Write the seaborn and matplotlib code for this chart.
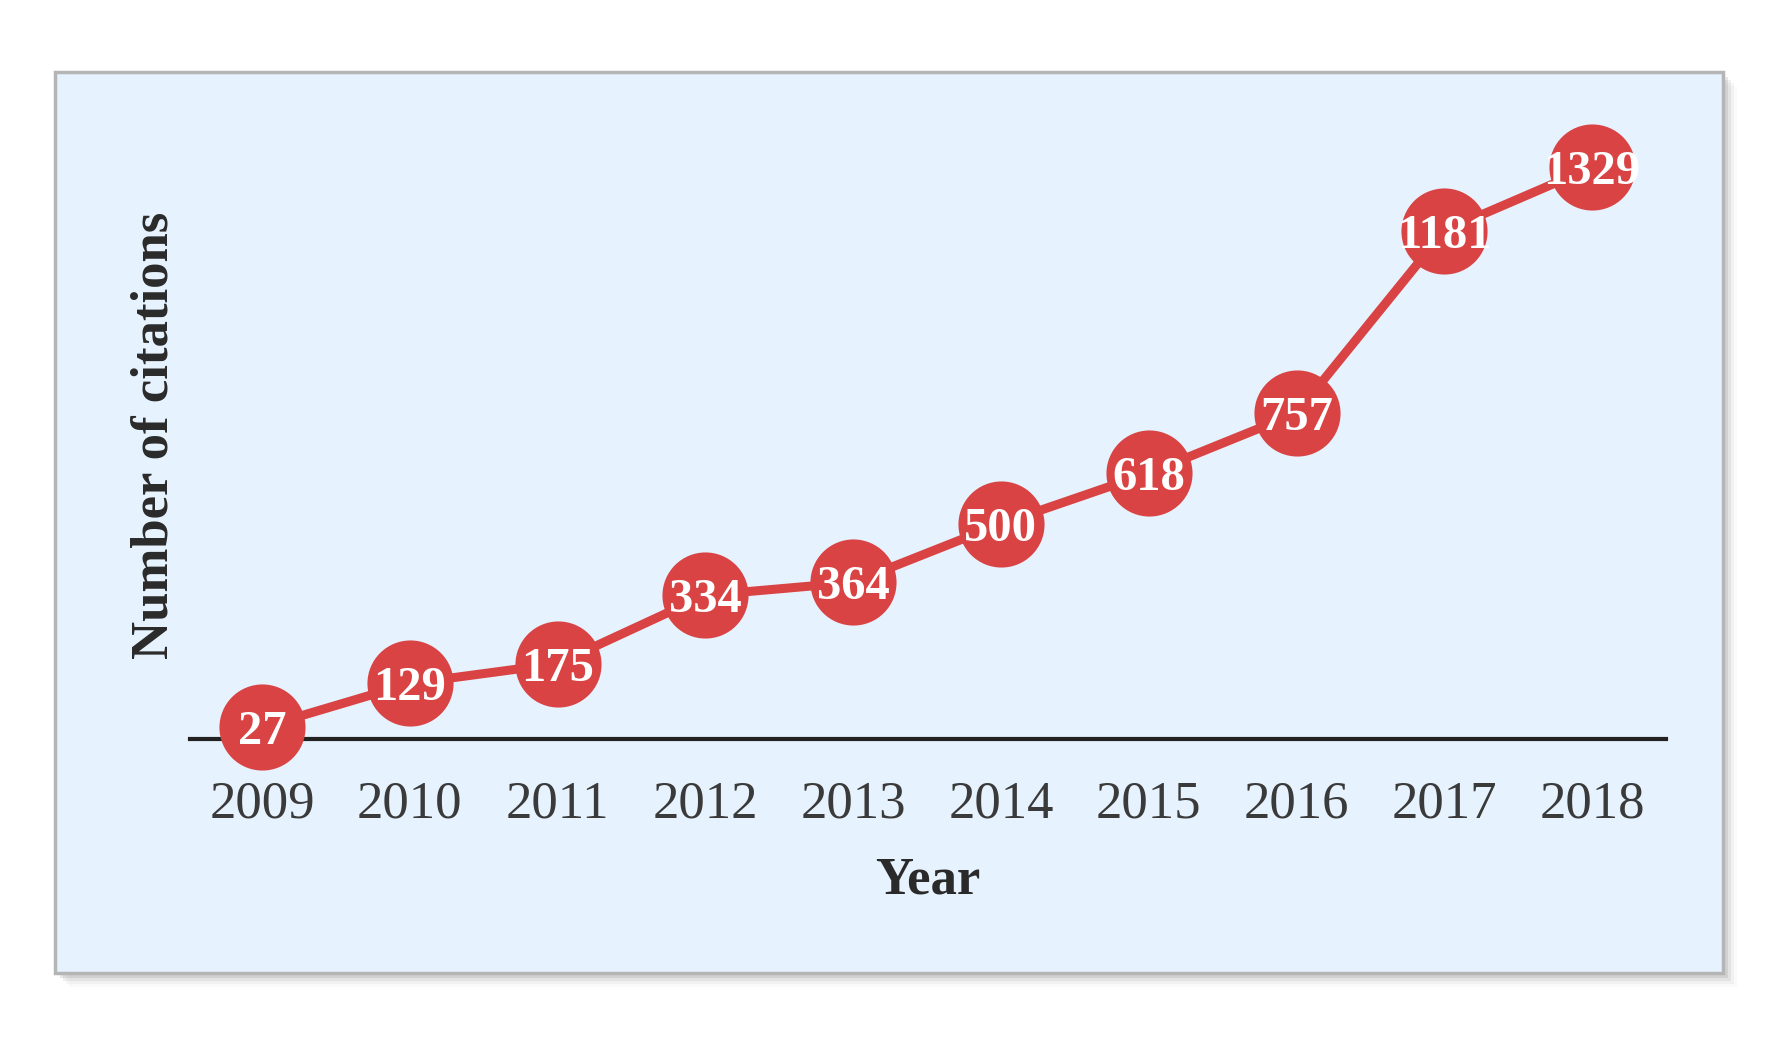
import matplotlib.pyplot as plt
import seaborn as sns
from matplotlib.patches import Rectangle

years = [2009, 2010, 2011, 2012, 2013, 2014, 2015, 2016, 2017, 2018]
citations = [27, 129, 175, 334, 364, 500, 618, 757, 1181, 1329]

red = "#D94343"
panel = "#E6F2FD"

sns.set_style("white")
plt.rcParams["font.family"] = ["Liberation Serif", "DejaVu Serif"]

fig = plt.figure(figsize=(17.87, 10.38), dpi=100)
fig.patch.set_facecolor("white")

# framed panel with a soft drop shadow (drawn beneath the axes)
W, H = 1787, 1038
px = lambda x0, y0, x1, y1: (x0 / W, 1 - y1 / H, (x1 - x0) / W, (y1 - y0) / H)
for off, a in [(14, 0.04), (11, 0.07), (8, 0.12), (5, 0.18)]:
    l, b, w, h = px(55 + off, 72 + off, 1723 + off, 973 + off)
    fig.patches.append(Rectangle((l, b), w, h, transform=fig.transFigure,
                                 facecolor="#808080", edgecolor="none", alpha=a, zorder=-10))
l, b, w, h = px(55, 72, 1723, 973)
fig.patches.append(Rectangle((l, b), w, h, transform=fig.transFigure,
                             facecolor=panel, edgecolor="#B5B5B5", linewidth=2.5, zorder=-5))

ax = fig.add_axes([190 / W, (H - 739) / H, (1666 - 190) / W, (739 - 100) / H])
ax.set_facecolor("none")

sns.lineplot(x=years, y=citations, ax=ax, color=red, linewidth=6.5,
             marker="o", markersize=62, markeredgewidth=0, clip_on=False, zorder=4)

for x, y in zip(years, citations):
    ax.text(x, y, str(y), ha="center", va="center_baseline", color="white",
            fontsize=35, fontweight="bold", zorder=5)

ax.set_xlim(years[0] - 0.487, years[-1] + 0.5)
ax.set_ylim(0, 1485)
ax.set_xticks(years)
ax.set_xticklabels([str(y) for y in years])
ax.set_yticks([])
ax.tick_params(axis="x", length=0, pad=30, labelsize=38, labelcolor="#3A3A3A")

for s in ["top", "right", "left"]:
    ax.spines[s].set_visible(False)
ax.spines["bottom"].set_color("#222222")
ax.spines["bottom"].set_linewidth(3)

ax.set_xlabel("Year", fontsize=38, fontweight="bold", color="#2A2A2A")
ax.set_ylabel("Number of citations", fontsize=38, fontweight="bold", color="#2A2A2A")
ax.xaxis.set_label_coords(0.5, (739 - 857) / 639)
ax.yaxis.set_label_coords((179 - 190) / 1476, (739 - 435) / 639)

fig.savefig("out.png", dpi=100)
